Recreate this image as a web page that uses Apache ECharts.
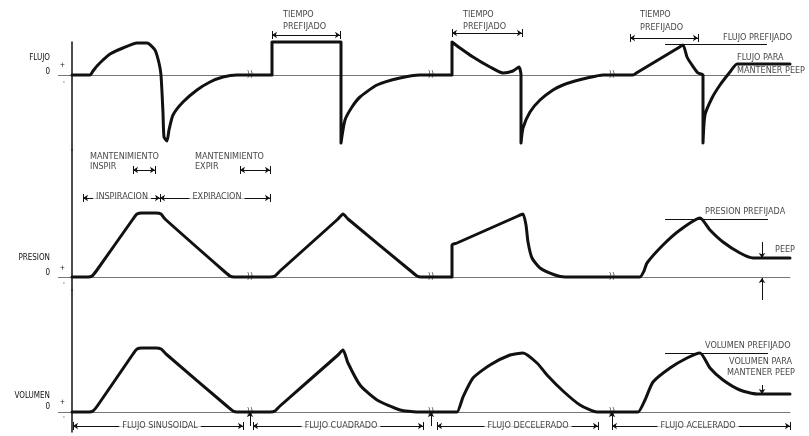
<!DOCTYPE html>
<html lang="es">
<head>
  <meta charset="UTF-8">
  <title>Flujo, presion y volumen</title>
  <style>
    html, body { margin: 0; background: #fff; }
    #main { width: 809px; height: 436px; }
  </style>
</head>
<body>
  <div id="main"></div>
<script src="https://cdn.jsdelivr.net/npm/echarts@6/dist/echarts.min.js"></script>
<script>
var chart = echarts.init(document.getElementById('main'));

// curvas: [tiempo, valor], 0 = linea base (unidades arbitrarias)
var flujo = [
  [72,0],[90,0],[93,4],[97,9],[103,15],[110,21],[123,27],[137,32],[147,32],[155,25],[159,12],[161,0],
  [163,-38],[164,-62],[167,-66],[169,-55],[173,-40],[183,-27],[197,-15],[210,-7],[223,-2],[237,0],[250,0],
  [267,0],[272,0],[272,33],[341,33],[341,-68],[345,-45],[352,-32],[360,-22],[377,-10],[400,-3],[420,0],[440,0],
  [447,0],[452,0],[452,33],[460,27],[473,18],[490,8],[503,2],[513,4],[519,8],[521,0],[521,-68],
  [523,-53],[530,-37],[540,-25],[553,-15],[563,-10],[575,-6],[587,-3],[603,0],[620,0],
  [630,0],[633,0],[638,3],[678,27],[683,30],[687,18],[692,10],[698,2],[703,0],[703,-68],[705,-40],[712,-23],[720,-10],
  [730,3],[737,11],[745,11],[790,11]
];
var presion = [
  [72,0],[88,0],[92,1],[97,7],[133,58],[137,63],[142,64],[156,64],[161,63],[165,58],[225,5],[230,1],[234,0],
  [270,0],[275,1],[280,6],[338,58],[343,63],[348,58],[412,5],[417,1],[421,0],
  [447,0],[452,0],[452,32],[457,34],[518,61],[523,63],[526,52],[528,35],[532,19],[540,9],[555,2],[565,0],
  [632,0],[640,0],[644,6],[647,14],[663,32],[680,47],[700,59],[710,47],[723,35],[740,24],[753,19],[760,19],[790,19]
];
var volumen = [
  [72,0],[89,0],[93,1],[98,7],[133,58],[137,63],[142,64],[156,64],[161,63],[166,58],[228,5],[233,1],[237,0],
  [270,0],[275,1],[280,6],[338,57],[343,62],[345,58],[348,49],[360,27],[377,12],[400,2],[417,0],
  [450,0],[457,0],[463,15],[473,34],[490,47],[510,57],[523,59],[537,49],[547,37],[563,21],[580,7],[597,0],
  [630,0],[638,0],[645,12],[653,30],[670,44],[687,54],[700,59],[710,44],[723,32],[740,22],[757,18],[765,18],[790,18]
];

// cortes de tiempo )) sobre la linea base
var cortes = [250, 431, 612];

// cotas con flechas: [t inicio, t fin, altura]
var cotasFlujo = [[272,340,40],[452,522,42],[630,698,37]];
var cotasPresion = [[133,155,107],[240,270,107],[83,160,79],[160,270,79]];
var cotasVolumen = [[73,243,-14],[253,423,-14],[437,598,-14],[612,790,-14]];

// lineas de referencia: [t inicio, t fin, altura]
var refFlujo = [[665,767,31]];
var refPresion = [[665,768,58]];
var refVolumen = [[665,768,59]];

// flechas verticales: [t, desde, hasta]
var flechasPresion = [[762,35,19],[762,-23,-1]];
var flechasVolumen = [[762,27,18],[250,-14,0],[431,-14,0],[612,-14,0]];

// textos: [t, valor, texto, alineacion]
var textosFlujo = [
  [283,60,'TIEMPO','left'],[283,48,'PREFIJADO','left'],
  [463,60,'TIEMPO','left'],[463,48,'PREFIJADO','left'],
  [640,60,'TIEMPO','left'],[640,47,'PREFIJADO','left'],
  [723,37,'FLUJO PREFIJADO','left'],
  [737,17,'FLUJO PARA','left'],[737,4,'MANTENER PEEP','left']
];
var textosPresion = [
  [90,120,'MANTENIMIENTO','left'],[90,110,'INSPIR','left'],
  [195,120,'MANTENIMIENTO','left'],[195,110,'EXPIR','left'],
  [122,80,'INSPIRACION','center'],[217,80,'EXPIRACION','center'],
  [705,65,'PRESION PREFIJADA','left'],[775,27,'PEEP','left']
];
var textosVolumen = [
  [705,66,'VOLUMEN PREFIJADO','left'],
  [729,50,'VOLUMEN PARA','left'],[727,39,'MANTENER PEEP','left'],
  [160,-14,'FLUJO SINUSOIDAL','center'],[341,-14,'FLUJO CUADRADO','center'],
  [528,-14,'FLUJO DECELERADO','center'],[698,-14,'FLUJO ACELERADO','center']
];

// rotulos del eje vertical: [valor, texto]
var rotulosFlujo = [[17,'FLUJO'],[10,'+'],[3,'0'],[-7,'-']];
var rotulosPresion = [[19,'PRESION'],[9,'+'],[4,'0'],[-6,'-']];
var rotulosVolumen = [[16,'VOLUMEN'],[10,'+'],[5,'0'],[-5,'-']];

var fuente = '"DejaVu Sans Condensed", "Liberation Sans Narrow", "DejaVu Sans", sans-serif';
var tinta = '#111';

var paneles = [
  {top: 42, height: 108, min: -75, max: 33, curva: flujo, cotas: cotasFlujo, refs: refFlujo, flechas: [], textos: textosFlujo, rotulos: rotulosFlujo},
  {top: 150, height: 140, min: -13, max: 127, curva: presion, cotas: cotasPresion, refs: refPresion, flechas: flechasPresion, textos: textosPresion, rotulos: rotulosPresion},
  {top: 290, height: 142, min: -20, max: 122, curva: volumen, cotas: cotasVolumen, refs: refVolumen, flechas: flechasVolumen, textos: textosVolumen, rotulos: rotulosVolumen}
];

var grids = [], xAxes = [], yAxes = [], series = [];

paneles.forEach(function (p, i) {
  grids.push({left: 72, right: 19, top: p.top, height: p.height});
  xAxes.push({
    type: 'value', gridIndex: i, min: 72, max: 790,
    axisLine: {show: true, onZero: true, lineStyle: {color: '#777', width: 1}},
    axisTick: {show: false}, axisLabel: {show: false}, splitLine: {show: false}
  });
  var mapa = {};
  p.rotulos.forEach(function (r) { mapa[r[0]] = r[1]; });
  yAxes.push({
    type: 'value', gridIndex: i, min: p.min, max: p.max,
    axisLine: {show: true, onZero: false, lineStyle: {color: tinta, width: 1.5}},
    axisTick: {show: true, customValues: [0], length: 14, lineStyle: {color: '#777'}},
    splitLine: {show: false},
    axisLabel: {
      show: true, margin: 7,
      customValues: p.rotulos.map(function (r) { return r[0]; }),
      formatter: function (v) {
        var t = mapa[v] || '';
        if (t === '+' || t === '-') return '{s|' + t + '}';
        return '{w|' + t + '}';
      },
      rich: {
        w: {fontSize: 8, color: tinta, fontFamily: fuente, padding: [0, 15, 0, 0]},
        s: {fontSize: 7, color: tinta, fontFamily: fuente}
      }
    }
  });

  // curva principal
  series.push({
    type: 'line', xAxisIndex: i, yAxisIndex: i, data: p.curva, showSymbol: false,
    clip: false, z: 4, smooth: 0.2,
    lineStyle: {color: tinta, width: 3, join: 'round', cap: 'round'}
  });

  // cotas con flechas en los dos extremos
  series.push({
    type: 'lines', coordinateSystem: 'cartesian2d', xAxisIndex: i, yAxisIndex: i, clip: false, z: 2,
    symbol: ['arrow', 'arrow'], symbolSize: 5,
    lineStyle: {color: tinta, width: 1, opacity: 1, curveness: 0},
    data: p.cotas.map(function (c) { return {coords: [[c[0], c[2]], [c[1], c[2]]]}; })
  });
  // topes verticales de las cotas y lineas de referencia
  var topes = [];
  p.cotas.forEach(function (c) {
    topes.push({coords: [[c[0], c[2] - 4], [c[0], c[2] + 4]]});
    topes.push({coords: [[c[1], c[2] - 4], [c[1], c[2] + 4]]});
  });
  p.refs.forEach(function (r) {
    topes.push({coords: [[r[0], r[2]], [r[1], r[2]]]});
  });
  series.push({
    type: 'lines', coordinateSystem: 'cartesian2d', xAxisIndex: i, yAxisIndex: i, clip: false, z: 2,
    symbol: ['none', 'none'],
    lineStyle: {color: tinta, width: 1, opacity: 1, curveness: 0},
    data: topes
  });
  // flechas verticales
  series.push({
    type: 'lines', coordinateSystem: 'cartesian2d', xAxisIndex: i, yAxisIndex: i, clip: false, z: 2,
    symbol: ['none', 'arrow'], symbolSize: 5,
    lineStyle: {color: tinta, width: 1, opacity: 1, curveness: 0},
    data: p.flechas.map(function (f) { return {coords: [[f[0], f[1]], [f[0], f[2]]]}; })
  });

  // textos y marcas de corte
  var etiquetas = p.textos.map(function (t) {
    return {
      value: [t[0], t[1]], name: t[2],
      label: {align: t[3], backgroundColor: t[3] === 'center' ? '#fff' : 'transparent', padding: t[3] === 'center' ? [0, 3] : 0}
    };
  });
  cortes.forEach(function (c) {
    etiquetas.push({value: [c, 0], name: '))', label: {align: 'center', fontSize: 9}});
  });
  series.push({
    type: 'scatter', xAxisIndex: i, yAxisIndex: i, clip: false, z: 6,
    symbolSize: 1, itemStyle: {color: 'rgba(0,0,0,0)'},
    silent: true,
    label: {
      show: true, position: 'inside', formatter: '{b}', verticalAlign: 'middle',
      color: tinta, fontSize: 9, fontFamily: fuente
    },
    data: etiquetas
  });
});

chart.setOption({
  animation: false,
  backgroundColor: '#fff',
  grid: grids,
  xAxis: xAxes,
  yAxis: yAxes,
  series: series
});
</script>
</body>
</html>
